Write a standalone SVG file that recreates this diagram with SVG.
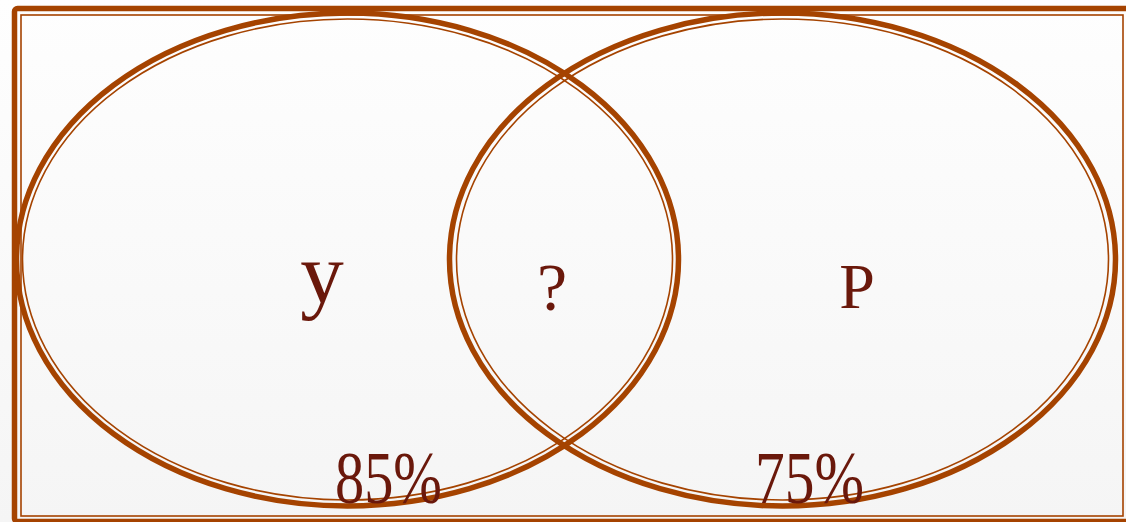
<svg xmlns="http://www.w3.org/2000/svg" width="1126" height="522" viewBox="0 0 1126 522">
  <defs>
    <linearGradient id="bg" x1="0" y1="0" x2="0" y2="1">
      <stop offset="0" stop-color="#fefefe"/>
      <stop offset="1" stop-color="#f5f5f5"/>
    </linearGradient>
    <style>
      .thick { fill: none; stroke: #a54300; stroke-width: 5.5; }
      .thin { fill: none; stroke: #a54300; stroke-width: 1.6; }
      .lbl { font-family: "Liberation Serif", "DejaVu Serif", serif; fill: #6a180b; text-anchor: middle; }
    </style>
  </defs>
  <rect x="0" y="0" width="1126" height="522" fill="url(#bg)"/>
  <g id="frame">
    <rect class="thick" x="14.5" y="8.5" width="1200" height="513" rx="3"/>
    <rect class="thin" x="21" y="15" width="1102" height="501"/>
  </g>
  <g id="set-y">
    <ellipse class="thick" cx="347.5" cy="259.5" rx="331" ry="246.5"/>
    <ellipse class="thin" cx="347.5" cy="259.5" rx="325" ry="240.5"/>
    <text class="lbl" x="322" y="302" font-size="87">y</text>
    <text class="lbl" x="388.5" y="503" font-size="74" textLength="107" lengthAdjust="spacingAndGlyphs">85%</text>
  </g>
  <g id="set-p">
    <ellipse class="thick" cx="782.5" cy="259.5" rx="333" ry="246.5"/>
    <ellipse class="thin" cx="782.5" cy="259.5" rx="326" ry="240.5"/>
    <text class="lbl" x="857" y="308" font-size="64">P</text>
    <text class="lbl" x="809.5" y="503" font-size="74" textLength="109" lengthAdjust="spacingAndGlyphs">75%</text>
  </g>
  <g id="intersection">
    <text class="lbl" x="552" y="310" font-size="68">?</text>
  </g>
  <g id="connectors"/>
</svg>
